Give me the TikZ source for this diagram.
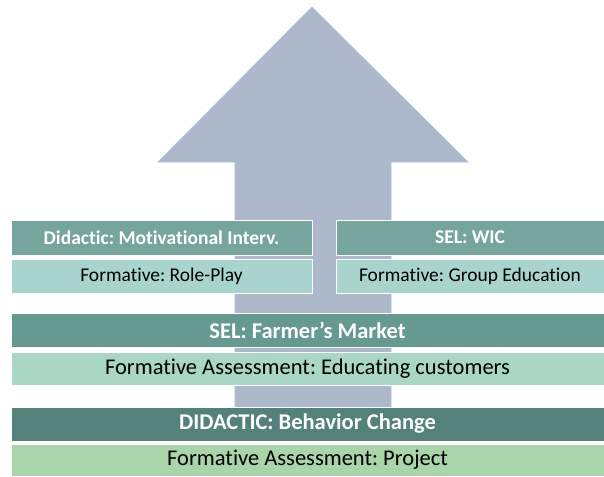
\documentclass[tikz,border=0pt]{standalone}
\usepackage{fontspec}
\setmainfont{Carlito}[Ligatures=NoCommon]
\usepackage{xcolor}
\definecolor{arrowfill}{HTML}{ADB9CA}
\definecolor{arrowline}{HTML}{9DC3E6}
\definecolor{headtop}{HTML}{76A59D}
\definecolor{subtop}{HTML}{A8D4CD}
\definecolor{headmid}{HTML}{66998F}
\definecolor{submid}{HTML}{AAD7C3}
\definecolor{headlow}{HTML}{54827A}
\definecolor{sublow}{HTML}{AAD4AA}
\usetikzlibrary{positioning}

\begin{document}
\frenchspacing
\begin{tikzpicture}[x=1pt,y=-1pt,
  box/.style={draw=white,line width=0.6pt,inner sep=0pt,anchor=center},
  headbox/.style={box,text=white,font=\bfseries\fontsize{#1}{#1}\selectfont},
  subbox/.style={box,text=black,font=\fontsize{#1}{#1}\selectfont}]

\useasboundingbox (0,0) rectangle (604,476);

% the big arrow behind everything
\filldraw[fill=arrowfill,draw=arrowline,line width=0.6pt]
  (312,7) -- (468,162) -- (391,162) -- (391,407) -- (235,407) -- (235,162) -- (158,162) -- cycle;

% top row, two columns
\node (motiv) at (161.5,237.5)[headbox=19.5,fill=headtop,minimum width=301pt,minimum height=35pt]{Didactic: Motivational Interv.};
\node (role) at (161.5,276)[subbox=19.5,fill=subtop,minimum width=301pt,minimum height=34pt]{Formative: Role-Play};
\node (wic) at (470,237.5)[headbox=19.5,fill=headtop,minimum width=268pt,minimum height=35pt]{SEL: WIC};
\node (group) at (470,276)[subbox=19.5,fill=subtop,minimum width=268pt,minimum height=34pt]{Formative: Group Education};

% middle band
\node (market) at (307.5,330)[headbox=22.5,fill=headmid,minimum width=593pt,minimum height=34pt]{SEL: Farmer’s Market};
\node (customers) at (307.5,368.5)[subbox=22.5,fill=submid,minimum width=593pt,minimum height=33pt]{Formative Assessment: Educating customers};

% bottom band
\node (behav) at (307.5,424)[headbox=22.5,fill=headlow,minimum width=593pt,minimum height=34pt]{DIDACTIC: Behavior Change};
\node (project) at (307.5,460)[subbox=22.5,fill=sublow,minimum width=593pt,minimum height=32pt]{Formative Assessment: Project};

\end{tikzpicture}
\end{document}
